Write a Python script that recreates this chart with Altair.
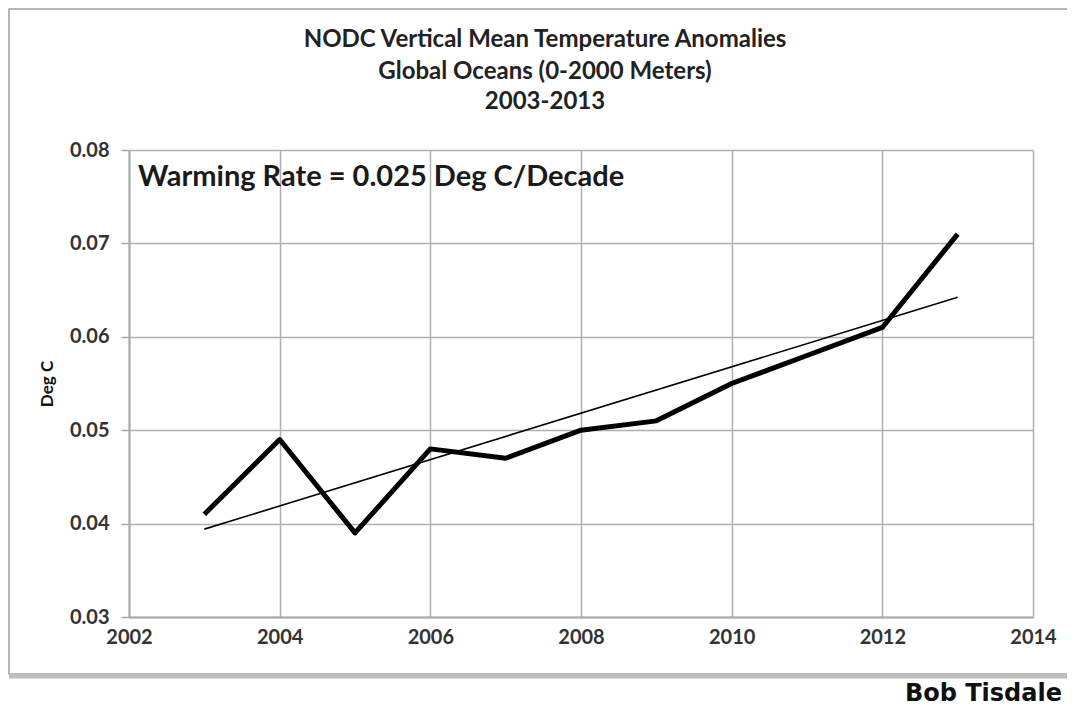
import altair as alt
import pandas as pd

years = [2003, 2004, 2005, 2006, 2007, 2008, 2009, 2010, 2011, 2012, 2013]
anomalies = [0.041, 0.049, 0.039, 0.048, 0.047, 0.050, 0.051, 0.055, 0.058, 0.061, 0.071]
x_ticks = [2002, 2004, 2006, 2008, 2010, 2012, 2014]
y_ticks = [0.03, 0.04, 0.05, 0.06, 0.07, 0.08]
title_lines = ["NODC Vertical Mean Temperature Anomalies", "Global Oceans (0-2000 Meters)", "2003-2013"]
note = "Warming Rate = 0.025 Deg C/Decade"
credit = "Bob Tisdale"

df = pd.DataFrame({"year": years, "anom": anomalies})

FONT = "Lato"
W, H = 904, 467

xs = alt.X("year:Q", scale=alt.Scale(domain=[2002, 2014], nice=False, zero=False),
           axis=alt.Axis(values=x_ticks, format="d", title=None, ticks=False,
                         labelPadding=10, labelFontSize=20, labelFont=FONT,
                         labelFontWeight="bold", labelColor="#333333", labelFlush=False,
                         grid=True, gridColor="#b0b0b0", gridWidth=1.5,
                         domainColor="#a8a8a8", domainWidth=2))
ys = alt.Y("anom:Q", scale=alt.Scale(domain=[0.03, 0.08], nice=False, zero=False),
           axis=alt.Axis(values=y_ticks, format=".2f", title="Deg C",
                         titleFont=FONT, titleFontSize=17, titleFontWeight="bold",
                         titleColor="#111111", titlePadding=13,
                         tickSize=8, tickColor="#a8a8a8", tickWidth=1.5,
                         labelPadding=12, labelFontSize=20, labelFont=FONT,
                         labelFontWeight="bold", labelColor="#333333", labelFlush=False,
                         grid=True, gridColor="#b0b0b0", gridWidth=1.5,
                         domainColor="#a8a8a8", domainWidth=2))

base = alt.Chart(df)

line = base.mark_line(color="black", strokeWidth=5, strokeJoin="round").encode(x=xs, y=ys)
trend = base.transform_regression("year", "anom").mark_line(
    color="black", strokeWidth=1.6).encode(x=alt.X("year:Q"), y=alt.Y("anom:Q"))

one = pd.DataFrame({"a": [0]})
frame = alt.Chart(one).mark_rect(
    fillOpacity=0, stroke="#a0a0a0", strokeWidth=1.5, clip=False).encode(
    x=alt.value(-120), x2=alt.value(960), y=alt.value(-141), y2=alt.value(524))
bottom_bar = alt.Chart(one).mark_rule(
    color="#bdbdbd", strokeWidth=5, clip=False).encode(
    x=alt.value(-120), x2=alt.value(960), y=alt.value(526))

title_df = pd.DataFrame({"t": title_lines, "dy": [-110, -78, -48]})
title_text = alt.Chart(title_df).mark_text(
    align="center", baseline="middle", font=FONT, fontWeight="bold", fontSize=24,
    color="#222222", clip=False).encode(
    x=alt.value(416), y=alt.Y("dy:Q", scale=None), text="t:N")

note_text = alt.Chart(pd.DataFrame({"t": [note]})).mark_text(
    align="left", baseline="middle", font=FONT, fontWeight="bold", fontSize=29,
    color="#1a1a1a").encode(x=alt.value(9), y=alt.value(27), text="t:N")

credit_text = alt.Chart(pd.DataFrame({"t": [credit]})).mark_text(
    align="right", baseline="alphabetic", font="DejaVu Sans", fontWeight="bold",
    fontSize=24, color="#111111", clip=False).encode(
    x=alt.value(933), y=alt.value(551), text="t:N")

chart = alt.layer(frame, bottom_bar, trend, line, title_text, note_text, credit_text).properties(
    width=W, height=H,
    autosize=alt.AutoSizeParams(type="none"),
    padding={"left": 121, "top": 142, "right": 34, "bottom": 90},
).configure_view(stroke="#a8a8a8", strokeWidth=2).configure(background="white")

chart.save("out.html", embed_options={"renderer": "svg", "actions": False})
